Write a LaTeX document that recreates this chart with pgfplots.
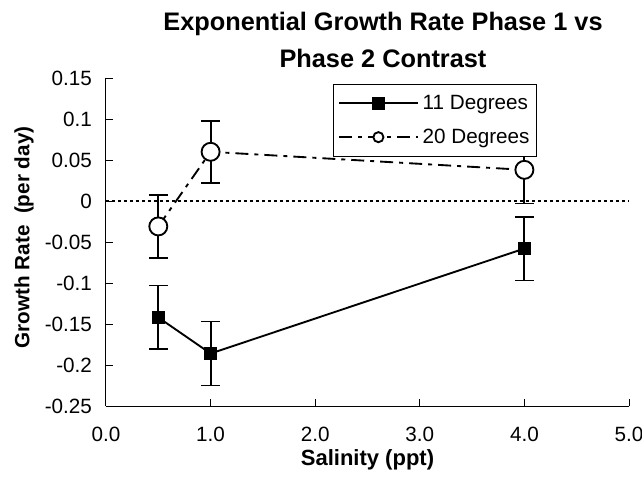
\documentclass[border=0pt]{standalone}
\usepackage{fontspec}
\setmainfont{Liberation Sans}
\usepackage{pgfplots}
\pgfplotsset{compat=1.18}
\begin{document}
\begin{tikzpicture}
\path[use as bounding box] (-79.5pt,-54.75pt) rectangle (402pt,304.5pt);
\begin{axis}[
  at={(0pt,0pt)}, anchor=south west,
  scale only axis, width=392.25pt, height=246pt,
  xmin=0, xmax=5, ymin=-0.25, ymax=0.15,
  axis x line*=bottom, axis y line*=left,
  axis line style={line width=0.75pt, -},
  tick align=inside, major tick length=5pt,
  tick style={line width=0.75pt, black},
  xtick={0,1,2,3,4,5},
  xticklabels={0.0,1.0,2.0,3.0,4.0,5.0},
  ytick={-0.25,-0.2,-0.15,-0.1,-0.05,0,0.05,0.1,0.15},
  yticklabels={-0.25,-0.2,-0.15,-0.1,-0.05,0,0.05,0.1,0.15},
  ticklabel style={font=\fontsize{15.5}{18}\selectfont},
  yticklabel style={xshift=-7pt},
  xticklabel style={yshift=-12pt},
  title={Exponential Growth Rate Phase 1 vs\\Phase 2 Contrast},
  title style={at={(axis description cs:0.5296,1)}, anchor=south, inner sep=0pt,
    yshift=1.5pt, align=center, font=\bfseries\fontsize{19}{27.75}\selectfont},
  xlabel={Salinity (ppt)},
  xlabel style={at={(axis description cs:0.5,0)}, anchor=base, yshift=-44.5pt,
    font=\bfseries\fontsize{16.5}{19}\selectfont},
  ylabel={Growth Rate\ \ (per day)},
  ylabel style={at={(axis description cs:-0.1467,0.514)}, anchor=base,
    font=\bfseries\fontsize{15.5}{19}\selectfont},
  legend style={at={(axis description cs:0.434,0.982)}, anchor=north west,
    draw=black, line width=0.75pt, fill=white,
    font=\fontsize{15.5}{18}\selectfont,
    inner xsep=3.5pt, inner ysep=6pt, row sep=9.25pt,
    /tikz/every odd column/.append style={column sep=1pt}},
  legend cell align=left,
  legend image code/.code={\draw[mark repeat=2,mark phase=2]
    plot coordinates {(0pt,0pt) (29.5pt,0pt) (59pt,0pt)};},
  error bars/y dir=both, error bars/y explicit,
  error bars/error bar style={line width=1.4pt, solid, black},
  error bars/error mark options={rotate=90, mark size=7pt, line width=1.4pt, solid, black},
]
% zero line
\addplot[forget plot, black, line width=1.1pt, dash pattern=on 2.25pt off 2.25pt]
  coordinates {(0,0) (5,0)};
% 11 Degrees
\addplot[black, line width=1.4pt, mark=square*, mark size=4.1pt,
  mark options={solid, fill=black}]
  coordinates {(0.5,-0.142) +- (0,0.039)
               (1.0,-0.186) +- (0,0.039)
               (4.0,-0.058) +- (0,0.039)};
\addlegendentry{11 Degrees}
% 20 Degrees
\addplot[black, line width=1.4pt, dash pattern=on 9.75pt off 4.5pt on 3pt off 4.5pt,
  mark=*, mark size=6.75pt, mark options={solid, fill=white},
  legend image code/.code={\draw[mark repeat=2,mark phase=2,mark size=3.8pt]
    plot coordinates {(0pt,0pt) (29.5pt,0pt) (59pt,0pt)};}]
  coordinates {(0.5,-0.031) +- (0,0.038)
               (1.0,0.060) +- (0,0.038)
               (4.0,0.038) +- (0,0.041)};
\addlegendentry{20 Degrees}
\end{axis}
\end{tikzpicture}
\end{document}
